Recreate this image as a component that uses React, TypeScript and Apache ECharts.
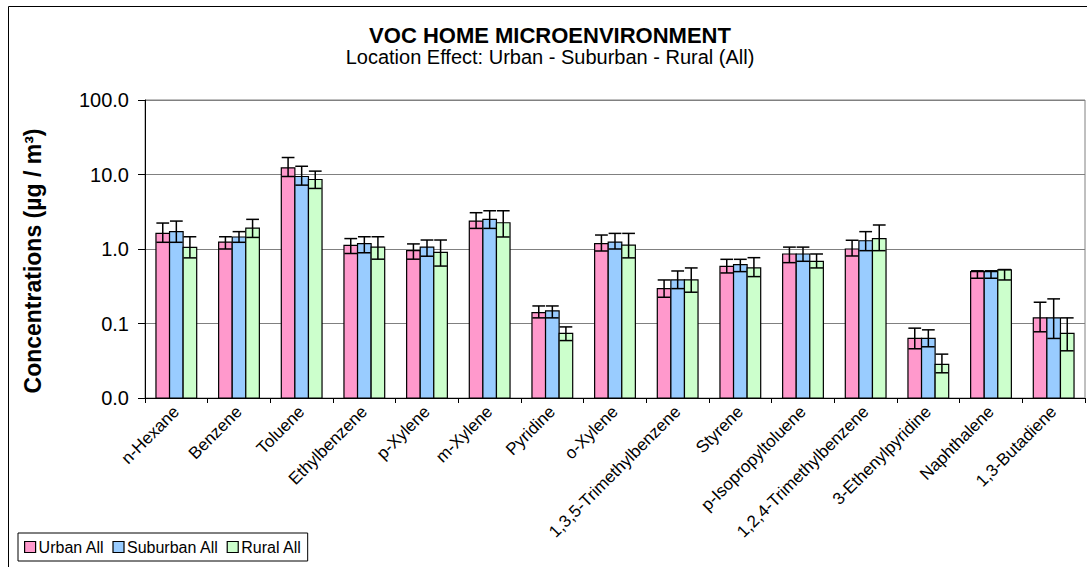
import React, { useEffect, useRef } from "react";
import * as echarts from "echarts";

const categories = [
  "n-Hexane", "Benzene", "Toluene", "Ethylbenzene", "p-Xylene", "m-Xylene", "Pyridine", "o-Xylene",
  "1,3,5-Trimethylbenzene", "Styrene", "p-Isopropyltoluene", "1,2,4-Trimethylbenzene",
  "3-Ethenylpyridine", "Naphthalene", "1,3-Butadiene",
];

const seriesNames = ["Urban All", "Suburban All", "Rural All"];

const urban = [1.62, 1.24, 12.3, 1.12, 0.95, 2.37, 0.14, 1.18, 0.294, 0.586, 0.857, 1.0, 0.063, 0.497, 0.119];
const urbanLow = [1.23, 1.0, 9.4, 0.87, 0.73, 1.89, 0.119, 0.94, 0.225, 0.477, 0.656, 0.806, 0.0458, 0.405, 0.0774];
const urbanHigh = [2.23, 1.46, 16.9, 1.38, 1.17, 3.07, 0.172, 1.54, 0.384, 0.727, 1.06, 1.31, 0.0866, 0.51, 0.193];

const suburban = [1.71, 1.45, 9.4, 1.18, 1.06, 2.5, 0.148, 1.24, 0.384, 0.617, 0.857, 1.29, 0.063, 0.497, 0.119];
const suburbanLow = [1.23, 1.23, 7.2, 0.89, 0.8, 1.89, 0.119, 1.0, 0.294, 0.497, 0.684, 0.95, 0.0487, 0.405, 0.063];
const suburbanHigh = [2.37, 1.71, 12.9, 1.46, 1.32, 3.26, 0.172, 1.62, 0.507, 0.727, 1.06, 1.71, 0.0822, 0.51, 0.214];

const rural = [1.05, 1.91, 8.57, 1.06, 0.9, 2.25, 0.0735, 1.13, 0.384, 0.557, 0.684, 1.38, 0.0282, 0.523, 0.0735];
const ruralLow = [0.76, 1.43, 6.5, 0.73, 0.59, 1.45, 0.059, 0.76, 0.263, 0.426, 0.557, 0.95, 0.0218, 0.384, 0.043];
const ruralHigh = [1.46, 2.5, 11.1, 1.46, 1.32, 3.26, 0.09, 1.62, 0.557, 0.765, 0.857, 2.1, 0.0388, 0.53, 0.119];

const colors = ["#FF99CC", "#99CCFF", "#CCFFCC"];

const yMin = 0.01;
const yMax = 100;

const FONT = "'Liberation Sans', Arial, sans-serif";
const CAT_GAP = 0.35;

export default function App() {
  const ref = useRef<HTMLDivElement>(null);

  useEffect(() => {
    if (!ref.current) return;
    const chart = echarts.init(ref.current, null, { renderer: "svg" });

    const values = [urban, suburban, rural];
    const lows = [urbanLow, suburbanLow, ruralLow];
    const highs = [urbanHigh, suburbanHigh, ruralHigh];

    const barSeries = seriesNames.map((name, s) => ({
      name,
      type: "custom",
      z: 2,
      itemStyle: { color: colors[s], borderColor: "#000", borderWidth: 1.2 },
      encode: { x: 0, y: 1 },
      data: categories.map((_, i) => [i, values[s][i]]),
      renderItem: (params: any, api: any) => {
        const idx = api.value(0);
        const top = api.coord([idx, api.value(1)]);
        const base = api.coord([idx, yMin]);
        const band = api.coord([1, 1])[0] - api.coord([0, 1])[0];
        const bw = (band * (1 - CAT_GAP)) / 3;
        const left = top[0] - 1.5 * bw + s * bw;
        return {
          type: "rect",
          shape: { x: left, y: top[1], width: bw, height: base[1] - top[1] },
          style: { fill: colors[s], stroke: "#000", lineWidth: 1.2 },
        };
      },
    }));

    const errSeries = seriesNames.map((name, s) => ({
      name: name + " error",
      type: "custom",
      z: 5,
      silent: true,
      encode: { x: 0, y: [1, 2] },
      data: categories.map((_, i) => [i, lows[s][i], highs[s][i]]),
      renderItem: (params: any, api: any) => {
        const idx = api.value(0);
        const lo = api.coord([idx, api.value(1)]);
        const hi = api.coord([idx, api.value(2)]);
        const band = api.coord([1, 1])[0] - api.coord([0, 1])[0];
        const bw = (band * (1 - CAT_GAP)) / 3;
        const cx = lo[0] + (s - 1) * bw;
        const cap = bw * 0.47;
        const st = { stroke: "#000", lineWidth: 1.5 };
        return {
          type: "group",
          children: [
            { type: "line", shape: { x1: cx, y1: lo[1], x2: cx, y2: hi[1] }, style: st },
            { type: "line", shape: { x1: cx - cap, y1: hi[1], x2: cx + cap, y2: hi[1] }, style: st },
            { type: "line", shape: { x1: cx - cap, y1: lo[1], x2: cx + cap, y2: lo[1] }, style: st },
          ],
        };
      },
    }));

    chart.setOption({
      animation: false,
      backgroundColor: "#fff",
      textStyle: { fontFamily: FONT },
      graphic: [
        {
          type: "rect",
          shape: { x: 8.5, y: 6.5, width: 1100, height: 600 },
          style: { fill: "none", stroke: "#000", lineWidth: 1 },
          silent: true,
          z: -1,
        },
        {
          type: "text",
          x: 550,
          y: 35,
          style: {
            text: "VOC HOME MICROENVIRONMENT",
            font: `bold 22px ${FONT}`,
            fill: "#000",
            textAlign: "center",
            textVerticalAlign: "middle",
          },
        },
        {
          type: "text",
          x: 550,
          y: 57,
          style: {
            text: "Location Effect: Urban - Suburban - Rural (All)",
            font: `20px ${FONT}`,
            fill: "#000",
            textAlign: "center",
            textVerticalAlign: "middle",
          },
        },
        {
          type: "text",
          x: 33,
          y: 261,
          rotation: Math.PI / 2,
          style: {
            text: "Concentrations (µg / m³)",
            font: `bold 23px ${FONT}`,
            fill: "#000",
            textAlign: "center",
            textVerticalAlign: "middle",
          },
        },
      ],
      legend: {
        data: seriesNames,
        left: 18,
        top: 533,
        orient: "horizontal",
        padding: [6, 6, 6, 6],
        itemGap: 8,
        itemWidth: 11,
        itemHeight: 11,
        icon: "rect",
        borderColor: "#000",
        borderWidth: 1,
        itemStyle: { borderColor: "#000", borderWidth: 1.2 },
        textStyle: { fontSize: 16, color: "#000", fontFamily: FONT, padding: [0, 0, 0, -2] },
      },
      grid: {
        left: 145,
        right: 2,
        top: 100,
        bottom: 169,
        show: true,
        borderColor: "#808080",
        borderWidth: 1,
        containLabel: false,
      },
      xAxis: {
        type: "category",
        data: categories,
        axisLine: { lineStyle: { color: "#000", width: 1 } },
        axisTick: { show: true, alignWithLabel: false, length: 5, lineStyle: { color: "#000" } },
        axisLabel: { rotate: 45, interval: 0, fontSize: 17, color: "#000", margin: 11, fontFamily: FONT },
        splitLine: { show: false },
      },
      yAxis: {
        type: "log",
        logBase: 10,
        min: yMin,
        max: yMax,
        axisLine: { show: true, lineStyle: { color: "#000", width: 1 } },
        axisTick: { show: true, length: 7, inside: false, lineStyle: { color: "#000" } },
        axisLabel: {
          fontSize: 20,
          color: "#000",
          margin: 16,
          fontFamily: FONT,
          formatter: (v: number) => v.toFixed(1),
        },
        splitLine: { show: true, lineStyle: { color: "#808080", width: 1 } },
      },
      series: [...barSeries, ...errSeries],
    } as any);

    return () => chart.dispose();
  }, []);

  return (
    <div
      ref={ref}
      style={{ position: "fixed", left: 0, top: 0, width: 1087, height: 567, background: "#fff" }}
    />
  );
}
